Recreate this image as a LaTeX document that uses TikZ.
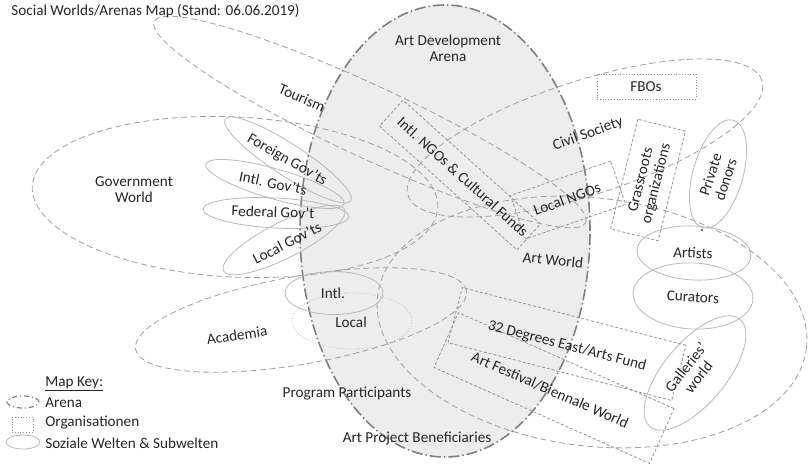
\documentclass[tikz,border=0pt]{standalone}
\usepackage{fontspec}
\setmainfont{Carlito}
\usetikzlibrary{shapes.geometric}
\tikzset{
  every picture/.style={line width=0.8pt},
  arena/.style={draw=black!50,fill=black!7,ellipse,inner sep=0,line width=1.6pt,
    dash pattern=on 11pt off 3pt on 1.5pt off 3pt},
  world/.style={draw=black!38,ellipse,inner sep=0,dash pattern=on 6pt off 3.5pt},
  sub/.style={draw=black!28,ellipse,inner sep=0},
  org/.style={draw=black!42,rectangle,inner sep=0,dash pattern=on 3pt off 2pt},
  lbl/.style={font=\fontsize{15.2}{16}\selectfont,text=black!85,align=center,inner sep=0pt},
  keytxt/.style={lbl,anchor=west},
}

\begin{document}
\begin{tikzpicture}[x=1pt,y=-1pt]
\useasboundingbox (0,0) rectangle (810,464);
% the arena
\node[arena,minimum width=290pt,minimum height=452pt] (ADA) at (445,231) {};
% social worlds
\node[world,minimum width=476pt,minimum height=72pt,rotate=-25] (TOU) at (370,122) {};
\node[world,minimum width=406pt,minimum height=160pt,rotate=-3] (GOV) at (235,197) {};
\node[world,minimum width=336pt,minimum height=88pt,rotate=10] (ACA) at (301,320) {};
\node[world,minimum width=372pt,minimum height=114pt,rotate=18] (CIV) at (585,138) {};
\node[world,minimum width=432pt,minimum height=248pt,rotate=-7] (ARTW) at (592,322) {};
% sub worlds
\node[sub,minimum width=150pt,minimum height=32pt,rotate=-33] (FGOV) at (288,160) {};
\node[sub,minimum width=144pt,minimum height=30pt,rotate=-16] (IGOV) at (275,184) {};
\node[sub,minimum width=146pt,minimum height=30pt,rotate=-3] (FEDG) at (276,213) {};
\node[sub,minimum width=136pt,minimum height=36pt,rotate=27] (LGOV) at (284,240) {};
\node[sub,minimum width=98pt,minimum height=43pt] (AINT) at (334,293) {};
\node[sub,dotted,minimum width=120pt,minimum height=56pt] (ALOC) at (352,321) {};
\node[sub,minimum width=112pt,minimum height=50pt,rotate=74] (PDON) at (718,174) {};
\node[sub,minimum width=114pt,minimum height=54pt,rotate=-3] (ART) at (694,253) {};
\node[sub,minimum width=120pt,minimum height=66pt,rotate=-3] (CUR) at (693,296) {};
\node[sub,minimum width=140pt,minimum height=62pt,rotate=50] (GAL) at (695,373) {};
\fill[black!60] (702,230) circle (1.3);
% organisations
\node[org,minimum width=185pt,minimum height=35pt,rotate=-42] (INGO) at (460,175) {};
\node[org,dotted,minimum width=99pt,minimum height=25pt] (FBO) at (646.5,86.5) {};
\node[org,minimum width=106pt,minimum height=46pt,rotate=19] (LNGO) at (568,200) {};
\node[org,minimum width=113pt,minimum height=49pt,rotate=76] (GRO) at (648,180) {};
\node[org,minimum width=231pt,minimum height=57pt,rotate=-14.5] (DEG) at (567,344) {};
\node[org,minimum width=236pt,minimum height=60pt,rotate=-24] (FEST) at (554,388) {};
% labels
\node[lbl,anchor=west] (title) at (11,11) {Social Worlds/Arenas Map (Stand: 06.06.2019)};
\node[lbl] at (448,48) {Art Development\\Arena};
\node[lbl,rotate=-24] at (302,98) {Tourism};
\node[lbl] at (134,190) {Government\\World};
\node[lbl,rotate=-30] at (287,160) {Foreign Gov'ts};
\node[lbl,rotate=-12] at (273,183) {Intl. Gov'ts};
\node[lbl,rotate=-2] at (273,212) {Federal Gov't};
\node[lbl,rotate=27] at (287,243) {Local Gov'ts};
\node[lbl,rotate=-42] at (463,177) {Intl. NGOs \& Cultural Funds};
\node[lbl,rotate=20] at (588,134) {Civil Society};
\node[lbl] at (646,87) {FBOs};
\node[lbl,rotate=20] at (567,199) {Local NGOs};
\node[lbl,rotate=76] at (649,182) {Grassroots\\organizations};
\node[lbl,rotate=72] at (718,177) {Private\\donors};
\node[lbl,rotate=-6] at (553,260) {Art World};
\node[lbl,rotate=-3] at (693,253) {Artists};
\node[lbl,rotate=-4] at (693,297) {Curators};
\node[lbl,rotate=8] at (237,335) {Academia};
\node[lbl] at (333,293) {Intl.};
\node[lbl] at (351,322) {Local};
\node[lbl,rotate=-14.5] at (567,346) {32 Degrees East/Arts Fund};
\node[lbl,rotate=-23.5] at (550,390) {Art Festival/Biennale World};
\node[lbl,rotate=52] at (692,372) {Galleries'\\world};
\node[lbl] at (347,394) {Program Participants};
\node[lbl] at (417,439) {Art Project Beneficiaries};
% map key
\node[keytxt] (key) at (45,384) {\underline{Map Key:}};
\node[arena,fill=none,line width=1.2pt,dash pattern=on 5pt off 3pt on 1pt off 3pt,
  minimum width=32pt,minimum height=12pt] (kA) at (23,402) {};
\node[keytxt] at (45,403) {Arena};
\node[org,dotted,minimum width=21pt,minimum height=15pt] (kO) at (22.5,424.5) {};
\node[keytxt] at (45,423) {Organisationen};
\node[sub,minimum width=34pt,minimum height=14pt] (kS) at (23,442) {};
\node[keytxt] at (45,443) {Soziale Welten \& Subwelten};
\end{tikzpicture}
\end{document}
